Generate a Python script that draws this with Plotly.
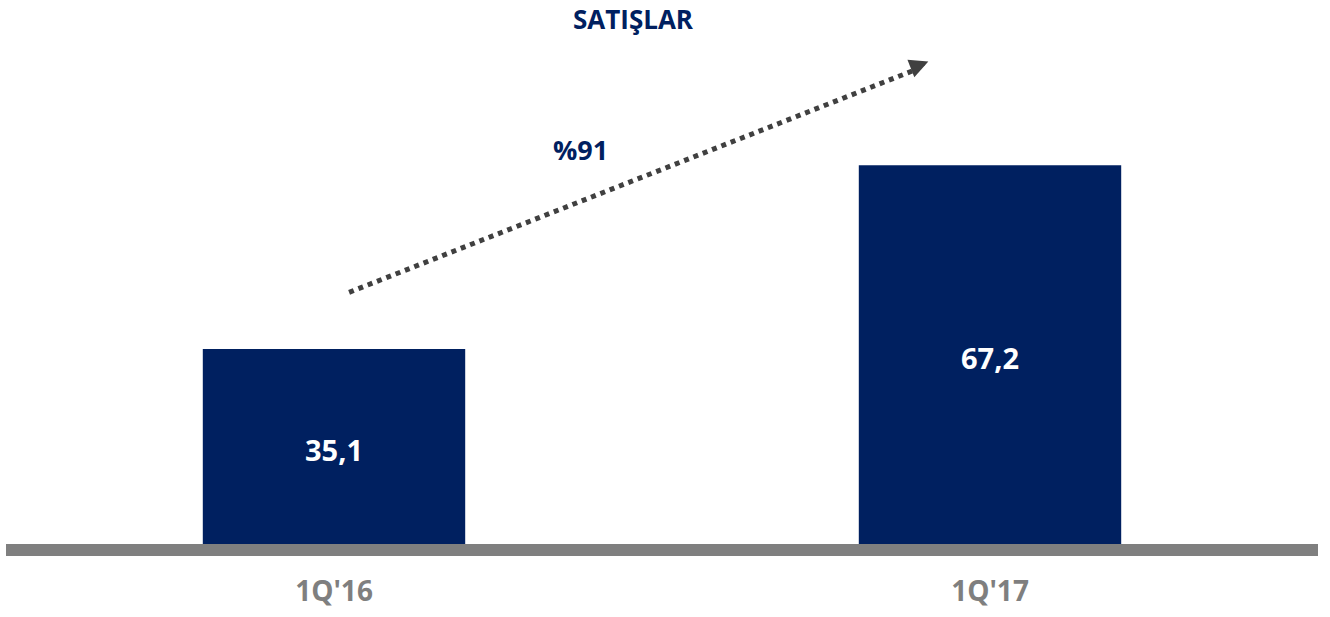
import plotly.graph_objects as go

donemler = ["1Q'16", "1Q'17"]
satislar = [35.1, 67.2]
baslik = "SATIŞLAR"

LACIVERT = "#002060"
GRI = "#7f7f7f"
OK_RENK = "#404040"
FONT = "Open Sans"

buyume = round((satislar[1] / satislar[0] - 1) * 100)
etiketler = [f"{v:.1f}".replace(".", ",") for v in satislar]

fig = go.Figure(go.Bar(
    x=donemler, y=satislar,
    marker=dict(color=LACIVERT, line=dict(width=0)),
    text=etiketler, textposition="inside", insidetextanchor="middle",
    textfont=dict(color="white", size=29, family=FONT, weight="bold"),
    width=0.4, hoverinfo="skip",
))

# zemin cizgisi (paper referansi: cizim alanina kirpilmasin)
fig.add_shape(type="line", xref="paper", yref="paper", x0=0, x1=1, y0=0, y1=0,
              line=dict(color=GRI, width=12), layer="above")

# noktali ok
fig.add_shape(type="line", xref="x", yref="y", x0=0.023, y0=45.0, x1=0.887, y1=83.9,
              line=dict(color=OK_RENK, width=5, dash="dot"))
fig.add_annotation(x=0.906, y=85.3, xref="x", yref="y", ax=-14, ay=5.5,
                   showarrow=True, arrowhead=2, arrowsize=0.75, arrowwidth=5,
                   arrowcolor=OK_RENK, text="", standoff=0)

fig.add_annotation(x=0.375, y=69.9, xref="x", yref="y", showarrow=False,
                   text=f"<b>%{buyume}</b>",
                   font=dict(color=LACIVERT, size=27, family=FONT))

fig.update_layout(
    width=1330, height=617,
    margin=dict(l=6, r=12, t=20, b=67),
    paper_bgcolor="white", plot_bgcolor="white",
    showlegend=False,
    title=dict(text=f"<b>{baslik}</b>", x=633 / 1330, xanchor="center",
               y=1 - 20 / 617, yanchor="middle",
               font=dict(color=LACIVERT, size=26, family=FONT)),
    xaxis=dict(range=[-0.5, 1.5], showgrid=False, zeroline=False, showline=False,
               ticks="", ticklabelstandoff=22,
               tickfont=dict(color=GRI, size=28, family=FONT, weight="bold")),
    yaxis=dict(range=[0, 92.56], visible=False, showgrid=False, zeroline=False),
)

fig.write_html("out.html", config={"displayModeBar": False},
               post_script="document.body.style.margin='0';")
